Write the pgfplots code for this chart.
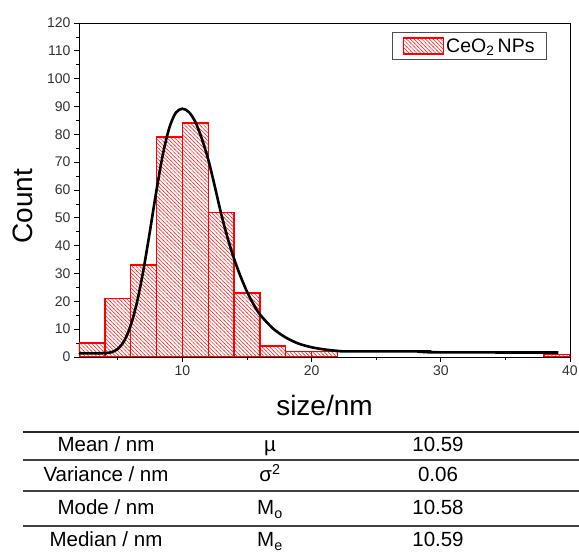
\documentclass[border=0pt]{standalone}
\usepackage{pgfplots}
\pgfplotsset{compat=1.18}
\usepackage{fontspec}
\setmainfont{Liberation Sans}
\usetikzlibrary{patterns}
\pgfdeclarepatterninherentlycolored{redhatch}{\pgfqpoint{-0.6pt}{-0.6pt}}{\pgfqpoint{4.4pt}{4.4pt}}{\pgfqpoint{3.8pt}{3.8pt}}{%
  \pgfsetcolor{red!85}\pgfsetlinewidth{0.5pt}%
  \pgfpathmoveto{\pgfqpoint{-0.5pt}{4.3pt}}\pgfpathlineto{\pgfqpoint{4.3pt}{-0.5pt}}\pgfusepath{stroke}%
}
\begin{document}
\begin{tikzpicture}
\useasboundingbox (-79pt,-199pt) rectangle (500pt,357pt);
\begin{axis}[
  at={(0pt,0pt)}, anchor=south west,
  scale only axis, width=491pt, height=334pt,
  xmin=2, xmax=40, ymin=0, ymax=120,
  xtick={10,20,30,40}, minor xtick={5,15,25,35},
  ytick={0,10,...,120}, minor ytick={5,15,...,115},
  tick pos=left, tick align=outside,
  major tick length=5pt, minor tick length=3pt,
  every tick/.style={black, line width=0.8pt},
  axis line style={black, line width=0.9pt},
  tick label style={font=\fontsize{14}{16}\selectfont, text=black!80},
  /pgf/number format/assume math mode=true,
  xlabel={size/nm}, ylabel={Count},
  label style={font=\fontsize{28}{32}\selectfont},
  xlabel style={at={(axis description cs:0.5,-0.1437)}, anchor=center},
  ylabel style={at={(axis description cs:-0.114,0.452)}, anchor=center},
  legend style={at={(axis description cs:0.953,0.973)}, anchor=north east,
    draw=black!70, line width=0.8pt, font=\fontsize{19.5}{22}\selectfont,
    inner xsep=10pt, inner ysep=4pt},
  legend cell align=left,
]
\addplot[ybar interval, draw=red, line width=1.4pt, pattern=redhatch,
  legend image code/.code={\draw[draw=red, line width=1.4pt, pattern=redhatch]
    (0pt,-8pt) rectangle (40pt,8pt);}]
  coordinates {(2,5)(4,21)(6,33)(8,79)(10,84)(12,52)(14,23)(16,4)(18,2)(20,2)(22,0)};
\addlegendentry{CeO\textsubscript{2}\,NPs}
\addplot[ybar interval, draw=red, line width=1.4pt, forget plot, pattern=redhatch]
  coordinates {(38,1)(40,1)};
\addplot[black, line width=2.6pt, smooth, forget plot] coordinates {
(2,1.3)(3,1.3)(4,1.4)(4.5,1.7)(5,2.9)(5.5,5.8)(6,11.3)(6.5,19.9)(7,31.6)(7.5,45.5)
(8,60)(8.5,73)(9,82.5)(9.5,87.8)(10,89.2)(10.5,88)(11,84.5)(11.5,78.5)(12,71)
(12.5,61.5)(13,51.5)(13.5,42.8)(14,35.3)(14.5,29)(15,23.5)(15.5,19)(16,15.3)
(17,10.3)(18,7)(19,4.8)(20,3.5)(21,2.7)(22,2.2)(23,2.0)(29,2.0)(29.3,1.7)(39.1,1.6)};
\end{axis}
% statistics table
\draw[line width=1.8pt, black!85] (-56pt,-75pt) -- (500pt,-75pt);
\draw[line width=1.3pt, black!75] (-56pt,-103pt) -- (500pt,-103pt);
\draw[line width=1.3pt, black!75] (-56pt,-134pt) -- (500pt,-134pt);
\draw[line width=1.3pt, black!75] (-56pt,-169pt) -- (500pt,-169pt);
\begin{scope}[every node/.style={font=\fontsize{20.5}{23}\selectfont, inner sep=0pt, anchor=base}]
\node at (27pt,-95pt) {Mean / nm};
\node at (191pt,-95pt) {µ};
\node at (359pt,-95pt) {10.59};
\node at (27pt,-125pt) {Variance / nm};
\node at (191pt,-125pt) {σ\textsuperscript{2}};
\node at (359pt,-125pt) {0.06};
\node at (27pt,-158pt) {Mode / nm};
\node at (191pt,-158pt) {M\textsubscript{o}};
\node at (359pt,-158pt) {10.58};
\node at (27pt,-190pt) {Median / nm};
\node at (191pt,-190pt) {M\textsubscript{e}};
\node at (359pt,-190pt) {10.59};
\end{scope}
\end{tikzpicture}
\end{document}
